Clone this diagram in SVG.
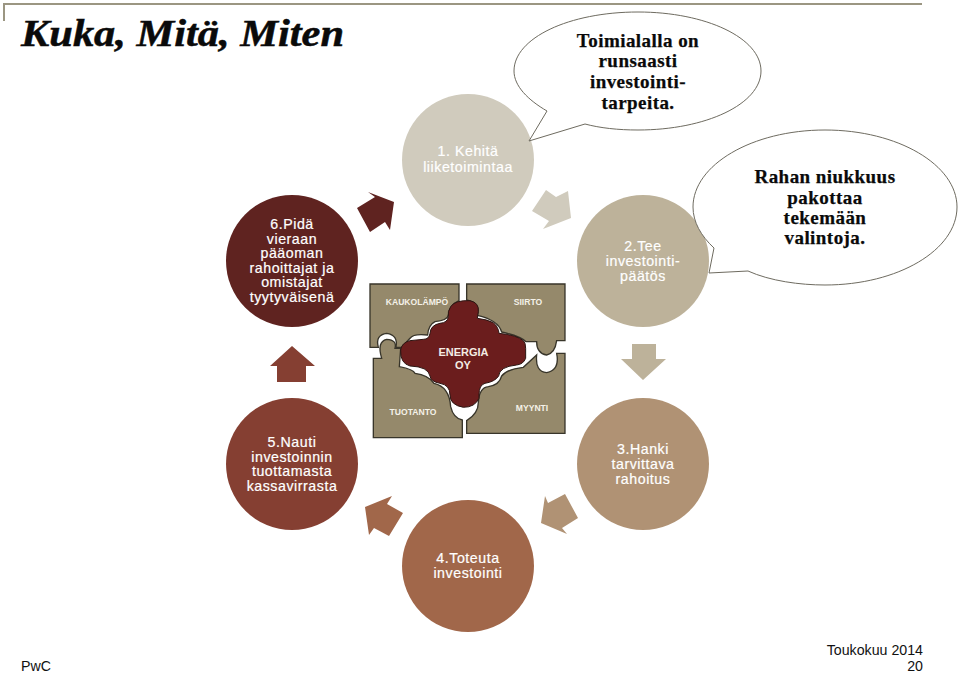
<svg xmlns="http://www.w3.org/2000/svg" width="959" height="673" viewBox="0 0 959 673">
<style>
text{font-family:"Liberation Sans",Arial,sans-serif}
.c{font-size:14.2px;letter-spacing:.55px;fill:#fff;text-anchor:middle;stroke:#fff;stroke-width:.2}
.s{font-family:"Liberation Serif",Georgia,serif;font-weight:700;font-size:19px;letter-spacing:.45px;fill:#0a0a0a;text-anchor:middle;stroke:#0a0a0a;stroke-width:.25}
.p{fill:#95896b;stroke:#38352a;stroke-width:4}
.t{font-size:8.6px;fill:#f4f1e8;text-anchor:middle;font-weight:700}
.f{font-size:14.2px;fill:#111}
.b{fill:#fff;stroke:#6e6b60;stroke-width:1}
</style>
<rect width="959" height="673" fill="#fff"/>
<path d="M4,21V4H922" fill="none" stroke="#9b9682" stroke-width="2"/>
<text x="21" y="46" style="font-family:'Liberation Serif',Georgia,serif;font-weight:700;font-style:italic;font-size:37px" fill="#0a0a0a" stroke="#0a0a0a" stroke-width=".5" textLength="323" lengthAdjust="spacingAndGlyphs">Kuka, Mitä, Miten</text>

<g id="connectors">
<polygon fill="#5f2320" points="368,192 394,202 390,230 385,222 370,232 357,208 375,197"/>
<polygon fill="#d0cbbd" points="546,190 556,197 568,191 571,218 543,229 549,221 532,211"/>
<polygon fill="#bdb29a" points="632,344 656,344 656,359 666,359 643,380 621,359 632,359"/>
<polygon fill="#b09274" points="545,496 548,503 565,494 578,518 562,528 567,534 541,523"/>
<polygon fill="#a1674a" points="392,496 387,504 403,513 389,536 374,528 369,535 365,507"/>
<polygon fill="#853f32" points="292,346 315,366 306,366 306,382 277,382 277,366 270,366"/>
</g>

<g id="node1"><circle cx="468" cy="160" r="66" fill="#d0cbbd"/>
<text class="c"><tspan x="468" y="156">1. Kehitä</tspan><tspan x="468" y="172">liiketoimintaa</tspan></text></g>
<g id="node2"><circle cx="643" cy="261" r="66" fill="#bdb29a"/>
<text class="c"><tspan x="643" y="251">2.Tee</tspan><tspan x="643" y="266">investointi-</tspan><tspan x="643" y="281">päätös</tspan></text></g>
<g id="node3"><circle cx="643" cy="464" r="66" fill="#b09274"/>
<text class="c"><tspan x="643" y="454">3.Hanki</tspan><tspan x="643" y="469">tarvittava</tspan><tspan x="643" y="484">rahoitus</tspan></text></g>
<g id="node4"><circle cx="468" cy="566" r="66" fill="#a1674a"/>
<text class="c"><tspan x="468" y="563">4.Toteuta</tspan><tspan x="468" y="578">investointi</tspan></text></g>
<g id="node5"><circle cx="292" cy="464" r="66" fill="#853f32"/>
<text class="c"><tspan x="292" y="447">5.Nauti</tspan><tspan x="292" y="461.7">investoinnin</tspan><tspan x="292" y="476.3">tuottamasta</tspan><tspan x="292" y="491">kassavirrasta</tspan></text></g>
<g id="node6"><circle cx="292" cy="261" r="66" fill="#5f2320"/>
<text class="c"><tspan x="292" y="229">6.Pidä</tspan><tspan x="292" y="243.6">vieraan</tspan><tspan x="292" y="258.2">pääoman</tspan><tspan x="292" y="272.8">rahoittajat ja</tspan><tspan x="292" y="287.4">omistajat</tspan><tspan x="292" y="302">tyytyväisenä</tspan></text></g>

<g id="puzzle">
<g transform="translate(360 270) scale(.3333)">
<path class="p" d="M30,42H297V92Q268,105 265,135Q262,152 225,155Q205,165 203,195Q160,190 150,205L125,232H108Q115,195 80,190Q45,195 55,232H30Z"/>
<path class="p" d="M320,490V452Q355,430 355,398Q358,352 385,350Q418,345 425,318Q440,298 490,292L530,255Q525,305 560,308Q600,300 590,250H615V490Z"/>
<path class="p" d="M320,42H615V212H590Q585,250 560,255Q530,250 530,215H498Q480,198 425,186Q415,150 352,136Q362,100 320,90Z"/>
<path class="p" d="M40,265H65Q50,215 80,208Q112,210 105,235H122L118,290Q160,298 165,310Q205,315 222,340Q268,350 272,410Q280,445 307,450V503H40Z"/>
<path fill="#6b1d1d" stroke="#2b1512" stroke-width="3" d="M272,110Q285,90 330,92Q358,98 355,125L352,145Q380,148 400,158Q415,170 417,190Q470,195 490,212Q497,218 497,235V265Q490,283 470,285Q418,290 416,318Q405,335 375,340Q357,345 357,375V385Q345,412 310,412Q270,405 270,375Q270,345 240,340Q212,335 210,318Q205,290 150,288Q120,280 122,240Q125,218 150,212L190,208Q208,208 210,190Q212,165 240,160Q263,158 265,140Q262,125 272,110Z"/>
</g>
<text class="t" x="417" y="305">KAUKOLÄMPÖ</text>
<text class="t" x="528" y="305">SIIRTO</text>
<text class="t" x="413" y="415">TUOTANTO</text>
<text class="t" x="532" y="411">MYYNTI</text>
<text x="463.5" y="356" font-size="11" font-weight="700" fill="#f4ece4" text-anchor="middle">ENERGIA</text>
<text x="463" y="369" font-size="11" font-weight="700" fill="#f4ece4" text-anchor="middle">OY</text>
</g>

<g id="callout1">
<path class="b" d="M547,111C528,100 514,86 514,71C514,38 569,12 638,12C706,12 761,38 761,71C761,104 706,130 638,130C618,130 600,128 585,124L529,141Z"/>
<text class="s"><tspan x="638" y="47">Toimialalla on</tspan><tspan x="638" y="67">runsaasti</tspan><tspan x="638" y="88">investointi-</tspan><tspan x="638" y="109">tarpeita.</tspan></text>
</g>
<g id="callout2">
<path class="b" d="M714,248C701,236 693,222 693,207C693,165 752,130 825,130C898,130 957,165 957,207C957,250 898,285 825,285C800,285 770,281 748,271L709,273Z"/>
<text class="s"><tspan x="825" y="183">Rahan niukkuus</tspan><tspan x="825" y="204">pakottaa</tspan><tspan x="825" y="224">tekemään</tspan><tspan x="825" y="244">valintoja.</tspan></text>
</g>

<g id="footer">
<text class="f" x="21" y="671">PwC</text>
<text class="f" x="923" y="655" text-anchor="end">Toukokuu 2014</text>
<text class="f" x="923" y="671" text-anchor="end">20</text>
</g>
</svg>
